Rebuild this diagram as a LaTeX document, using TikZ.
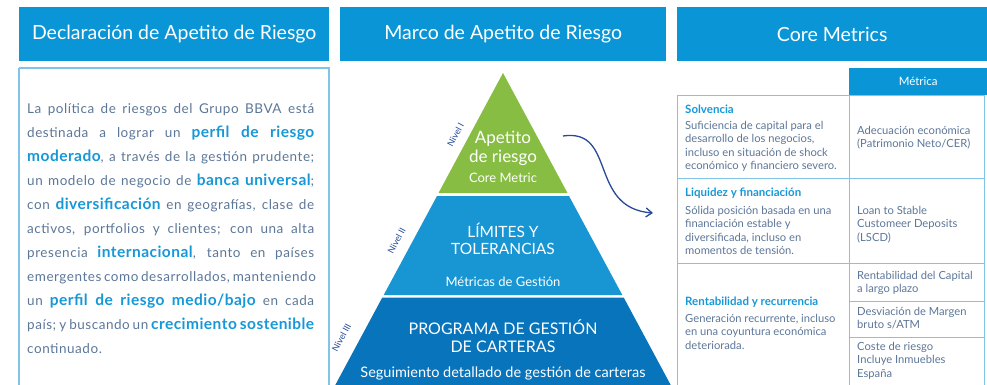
\documentclass[tikz,border=0pt]{standalone}
\usepackage{fontspec}
\setmainfont{Lato}
\usetikzlibrary{positioning,arrows.meta}
\definecolor{hdrblue}{RGB}{10,150,214}
\definecolor{hlblue}{RGB}{22,152,215}
\definecolor{bodygray}{RGB}{92,118,152}
\definecolor{apegreen}{RGB}{134,189,66}
\definecolor{limblue}{RGB}{24,150,212}
\definecolor{progblue}{RGB}{8,116,187}
\definecolor{navy}{RGB}{38,74,152}
\definecolor{thinline}{RGB}{130,195,232}
\newcommand{\destaca}[1]{{\fontsize{15.5}{24}\selectfont\bfseries\addfontfeatures{LetterSpace=3}\color{hlblue}#1}}
\begin{document}
\begin{tikzpicture}[x=1pt, y=-1pt,
  header/.style={fill=hdrblue, text=white, anchor=north west, minimum height=54pt, inner sep=0pt, font=\fontsize{19.5}{22}\selectfont},
  levtext/.style={text=white, align=center, inner sep=0pt},
  nivel/.style={text=navy, rotate=61.7, inner sep=0pt, font=\fontsize{9}{10}\selectfont},
  rowtitle/.style={text=hlblue, anchor=west, inner sep=0pt, font=\fontsize{11.5}{13}\selectfont\bfseries},
  celltext/.style={text=bodygray, anchor=north west, align=left, inner sep=0pt, font=\fontsize{11.2}{13.4}\selectfont},
  tabline/.style={draw=thinline, line width=0.9pt}]
\useasboundingbox (0,0) rectangle (987,385);

\node[header, minimum width=310pt] (declhdr) at (19,7) {Declaración de Apetito de Riesgo};
\node[header, minimum width=326pt] (marcohdr) at (340,7) {Marco de Apetito de Riesgo};
\node[header, minimum width=310pt] (corehdr) at (677,7) {Core Metrics};

\draw[draw=thinline, line width=1.3pt] (19,68) -- (19,390) (19,68) -- (329,68) -- (329,390);
\node[text=bodygray, anchor=north west, inner sep=0pt, text width=287pt, align=justify,
  font=\fontsize{13.5}{24}\selectfont\addfontfeatures{LetterSpace=4}] (decl) at (27,103) {%
La política de riesgos del Grupo BBVA está\linebreak
destinada a lograr un \destaca{perfil de riesgo}\linebreak
\destaca{moderado}, a través de la gestión prudente;\linebreak
un modelo de negocio de \destaca{banca universal};\linebreak
con \destaca{diversificación} en geografías, clase de\linebreak
activos, portfolios y clientes; con una alta\linebreak
presencia \destaca{internacional}, tanto en países\linebreak
emergentes como desarrollados, manteniendo\linebreak
un \destaca{perfil de riesgo medio/bajo} en cada\linebreak
país; y buscando un \destaca{crecimiento sostenible}\linebreak
continuado.};

\fill[apegreen] (503,73) -- (567.5,193) -- (438.5,193) -- cycle;
\fill[limblue] (437,196) -- (569,196) -- (622.3,295) -- (383.7,295) -- cycle;
\fill[progblue] (382.3,297.5) -- (623.7,297.5) -- (673.4,390) -- (332.6,390) -- cycle;

\node[levtext, font=\fontsize{17}{19}\selectfont] (apetito) at (503,148) {Apetito\\de riesgo};
\node[levtext, font=\fontsize{13}{15}\selectfont] (coremetric) at (503,178) {Core Metric};
\node[levtext, font=\fontsize{15.5}{17.5}\selectfont] (limites) at (503,239) {LÍMITES Y\\TOLERANCIAS};
\node[levtext, font=\fontsize{13}{15}\selectfont] (metricas) at (503,282) {Métricas de Gestión};
\node[levtext, font=\fontsize{16}{18}\selectfont] (programa) at (503,336) {PROGRAMA DE GESTIÓN\\DE CARTERAS};
\node[levtext, font=\fontsize{14.5}{16}\selectfont] (seguimiento) at (503,373) {Seguimiento detallado de gestión de carteras};

\node[nivel] (nivel1) at (455.5,135) {Nivel I};
\node[nivel] (nivel2) at (396.5,241) {Nivel II};
\node[nivel] (nivel3) at (341.5,338) {Nivel III};

\coordinate (arrowstart) at (563,136);
\coordinate (arrowend) at (653,213);
\draw[navy, line width=1.3pt, -{Straight Barb[length=6pt, width=9pt]}] (arrowstart) .. controls (617,128) and (588,208) .. (arrowend);

\node[fill=hdrblue, text=white, anchor=north west, minimum width=138pt, minimum height=27pt, inner sep=0pt,
  font=\fontsize{11.5}{13}\selectfont] (metricahdr) at (849,68) {Métrica};
\draw[tabline] (677,95) -- (984,95);
\draw[tabline] (677,95) -- (677,390);
\draw[tabline] (849,95) -- (849,390);
\draw[tabline] (984,95) -- (984,390);
\draw[tabline] (677,178) -- (984,178);
\draw[tabline] (677,263) -- (984,263);
\draw[tabline] (849,301) -- (984,301);
\draw[tabline] (849,337) -- (984,337);

\node[rowtitle] (solv) at (685,109) {Solvencia};
\node[celltext] (solvdesc) at (685,121) {Suficiencia de capital para el\\desarrollo de los negocios,\\incluso en situación de shock\\económico y financiero severo.};
\node[celltext] (solvmet) at (857,126) {Adecuación económica\\(Patrimonio Neto/CER)};

\node[rowtitle] (liq) at (685,193) {Liquidez y financiación};
\node[celltext] (liqdesc) at (685,206) {Sólida posición basada en una\\financiación estable y\\diversificada, incluso en\\momentos de tensión.};
\node[celltext] (liqmet) at (857,206) {Loan to Stable\\Customeer Deposits\\(LSCD)};

\node[rowtitle] (rent) at (685,302) {Rentabilidad y recurrencia};
\node[celltext] (rentdesc) at (685,314) {Generación recurrente, incluso\\en una coyuntura económica\\deteriorada.};
\node[celltext] (rentmet1) at (857,271) {Rentabilidad del Capital\\a largo plazo};
\node[celltext] (rentmet2) at (857,307) {Desviación de Margen\\bruto s/ATM};
\node[celltext] (rentmet3) at (857,342) {Coste de riesgo\\Incluye Inmuebles\\España};
\end{tikzpicture}
\end{document}
